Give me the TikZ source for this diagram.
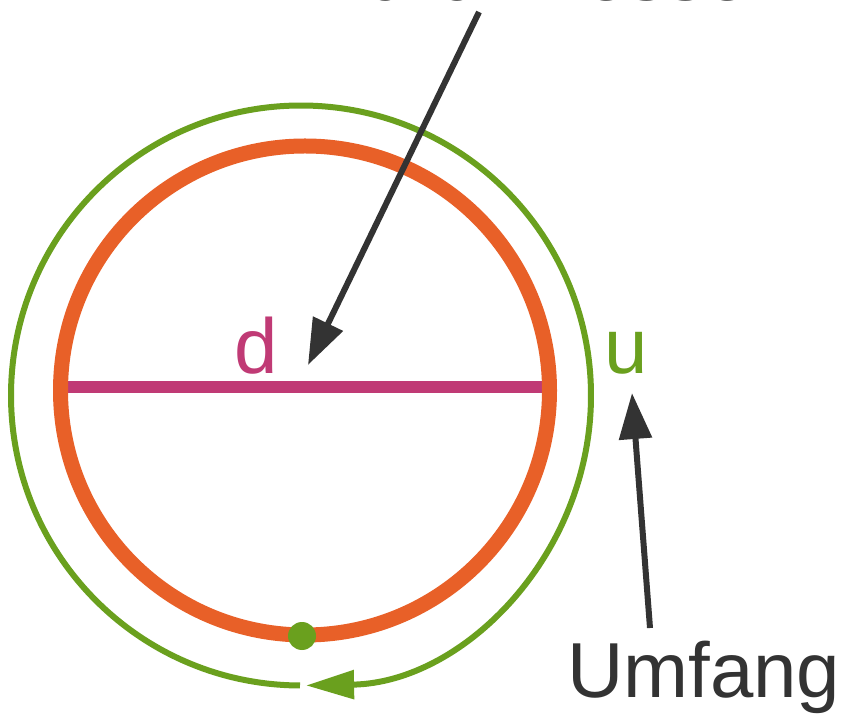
\documentclass[tikz,border=0pt]{standalone}
\usepackage{fontspec}
\setmainfont{Liberation Sans}
\usetikzlibrary{arrows.meta}
\definecolor{orng}{RGB}{232,96,40}
\definecolor{grn}{RGB}{106,160,30}
\definecolor{mag}{RGB}{192,58,117}
\definecolor{dgray}{RGB}{51,51,51}
\begin{document}
\begin{tikzpicture}[x=1pt,y=1pt,
  lbl/.style={inner sep=0pt,anchor=base west,font=\fontsize{78}{80}\selectfont},
  pointer/.style={draw=dgray,line width=6pt,-{Triangle[length=46pt,width=32pt]},color=dgray}]
\useasboundingbox (0,0) rectangle (851,715);
\fill[white] (0,0) rectangle (851,715);
% geometry
\coordinate (oc) at (305,324.5);
\coordinate (gc) at (301,319.5);
\coordinate (dl) at (60.5,328);
\coordinate (dr) at (549.5,328);
% diameter
\draw[mag,line width=12pt] (dl) -- (dr);
% orange circle
\draw[orng,line width=15pt] (oc) circle[radius=244.5];
% green circumference arc with arrow
\draw[grn,line width=6pt,-{Triangle[length=48pt,width=28pt]}]
  (gc) ++(269.8:290) arc[start angle=269.8,end angle=-89,radius=290];
% green dot
\node[circle,fill=grn,inner sep=0pt,minimum size=28pt] (dot) at (302,79) {};
% labels
\node[lbl,text=dgray] (durch) at (311,714) {Durchmesser};
\node[lbl,text=mag] (d) at (234,341) {d};
\node[lbl,text=grn] (u) at (604,341) {u};
\node[lbl,text=dgray] (umf) at (567,18) {Umfang};
% pointers
\coordinate (a1s) at (479,703);
\coordinate (a1e) at (308,350);
\coordinate (a2s) at (650,87);
\coordinate (a2e) at (632,322);
\draw[pointer] (a1s) -- (a1e);
\draw[pointer] (a2s) -- (a2e);
\end{tikzpicture}
\end{document}
